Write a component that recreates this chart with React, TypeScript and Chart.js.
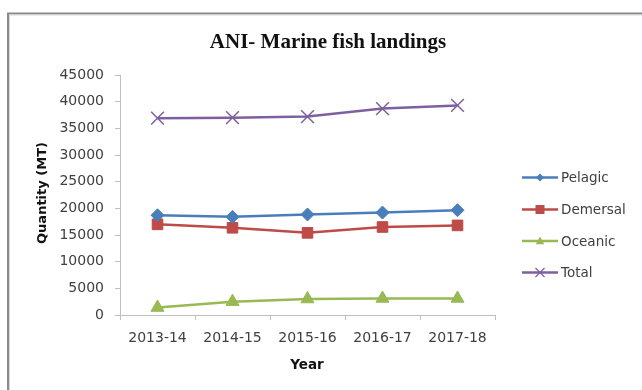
import React, { useEffect, useRef } from "react";
import { Chart, registerables } from "chart.js";

Chart.register(...registerables);

const years = ["2013-14", "2014-15", "2015-16", "2016-17", "2017-18"];
const pelagic = [18700, 18400, 18850, 19200, 19650];
const demersal = [17000, 16350, 15400, 16500, 16800];
const oceanic = [1400, 2500, 3000, 3100, 3100];
const total = [36900, 37000, 37200, 38700, 39300];
const seriesNames = ["Pelagic", "Demersal", "Oceanic", "Total"];
const seriesColors = ["#4a7ebb", "#be4b48", "#98b954", "#7d60a0"];
const seriesMarkers = ["rectRot", "rect", "triangle", "crossRot"];

const TICK_FONT = { family: "DejaVu Sans", size: 14 };

function drawMarker(ctx: CanvasRenderingContext2D, style: string, x: number, y: number, r: number, color: string) {
  ctx.save();
  ctx.fillStyle = color;
  ctx.strokeStyle = color;
  ctx.beginPath();
  if (style === "rectRot") {
    ctx.moveTo(x, y - r);
    ctx.lineTo(x + r, y);
    ctx.lineTo(x, y + r);
    ctx.lineTo(x - r, y);
    ctx.closePath();
    ctx.fill();
  } else if (style === "rect") {
    ctx.rect(x - r, y - r, 2 * r, 2 * r);
    ctx.fill();
  } else if (style === "triangle") {
    ctx.moveTo(x, y - r);
    ctx.lineTo(x + r * 0.95, y + r * 0.7);
    ctx.lineTo(x - r * 0.95, y + r * 0.7);
    ctx.closePath();
    ctx.fill();
  } else {
    ctx.lineWidth = 1.2;
    ctx.moveTo(x - r, y - r);
    ctx.lineTo(x + r, y + r);
    ctx.moveTo(x + r, y - r);
    ctx.lineTo(x - r, y + r);
    ctx.stroke();
  }
  ctx.restore();
}

const decorPlugin = {
  id: "decor",
  beforeDraw(chart: any) {
    const ctx = chart.ctx as CanvasRenderingContext2D;
    ctx.save();
    ctx.fillStyle = "#ffffff";
    ctx.fillRect(0, 0, chart.width, chart.height);
    // frame
    ctx.strokeStyle = "#8a8a8a";
    ctx.lineWidth = 2;
    ctx.beginPath();
    ctx.moveTo(8, chart.height + 5);
    ctx.lineTo(8, 13.5);
    ctx.lineTo(chart.width + 5, 13.5);
    ctx.stroke();
    ctx.strokeStyle = "#d8d8d8";
    ctx.lineWidth = 1;
    ctx.beginPath();
    ctx.moveTo(9.5, chart.height + 5);
    ctx.lineTo(9.5, 15);
    ctx.lineTo(chart.width + 5, 15);
    ctx.stroke();
    ctx.restore();
  },
  afterDraw(chart: any) {
    const ctx = chart.ctx as CanvasRenderingContext2D;
    ctx.save();
    // title
    ctx.fillStyle = "#111111";
    ctx.font = "bold 21px 'Liberation Serif'";
    ctx.textAlign = "center";
    ctx.textBaseline = "alphabetic";
    ctx.fillText("ANI- Marine fish landings", 328, 48);
    // axis titles
    ctx.font = "bold 13.5px 'DejaVu Sans'";
    ctx.textBaseline = "middle";
    ctx.fillText("Year", 307, 365);
    ctx.save();
    ctx.translate(43, 193);
    ctx.rotate(-Math.PI / 2);
    ctx.font = "bold 13px 'DejaVu Sans'";
    ctx.fillText("Quantity (MT)", 0, 0);
    ctx.restore();
    // legend
    const ys = [177.5, 209.5, 241, 272.5];
    const sizes = [4, 4.5, 4.5, 4.5];
    ctx.font = "13.5px 'DejaVu Sans'";
    ctx.textAlign = "left";
    seriesNames.forEach((name, i) => {
      const y = ys[i];
      ctx.strokeStyle = seriesColors[i];
      ctx.lineWidth = 2.5;
      ctx.beginPath();
      ctx.moveTo(522, y);
      ctx.lineTo(558, y);
      ctx.stroke();
      drawMarker(ctx, seriesMarkers[i], 540, y, sizes[i], seriesColors[i]);
      ctx.fillStyle = "#404040";
      ctx.fillText(name, 561, y + 1);
    });
    ctx.restore();
  },
};

export default function App() {
  const ref = useRef<HTMLCanvasElement>(null);
  useEffect(() => {
    document.body.style.margin = "0";
    const data = [pelagic, demersal, oceanic, total];
    const radii = [6.5, 7.5, 7.5, 9];
    const chart = new Chart(ref.current as HTMLCanvasElement, {
      type: "line",
      data: {
        labels: years,
        datasets: seriesNames.map((name, i) => ({
          label: name,
          data: data[i],
          borderColor: seriesColors[i],
          backgroundColor: seriesColors[i],
          borderWidth: 2.5,
          tension: 0,
          pointStyle: seriesMarkers[i] as any,
          pointRadius: radii[i],
          pointBorderWidth: i === 3 ? 1.5 : 1,
          pointBackgroundColor: seriesColors[i],
          pointBorderColor: seriesColors[i],
        })),
      },
      options: {
        responsive: false,
        animation: false,
        layout: { padding: { left: 0, right: 147, top: 75, bottom: 0 } },
        plugins: {
          legend: { display: false },
          title: { display: false },
          tooltip: { enabled: false },
        },
        scales: {
          x: {
            offset: true,
            grid: { offset: true, drawOnChartArea: false, drawTicks: true, tickLength: 5, color: "#bfbfbf" },
            border: { color: "#bfbfbf" },
            ticks: { font: TICK_FONT, color: "#404040", padding: 10, maxRotation: 0 },
            afterFit: (s: any) => {
              s.height = 75;
            },
          },
          y: {
            min: 0,
            max: 45000,
            ticks: {
              stepSize: 5000,
              font: TICK_FONT,
              color: "#404040",
              padding: 11,
              callback: (v: any) => String(v),
            },
            grid: { drawOnChartArea: false, drawTicks: true, tickLength: 5, color: "#bfbfbf" },
            border: { color: "#bfbfbf" },
            afterFit: (s: any) => {
              s.width = 120;
            },
          },
        },
      },
      plugins: [decorPlugin],
    });
    return () => chart.destroy();
  }, []);
  return (
    <div style={{ width: 642, height: 390 }}>
      <canvas ref={ref} width={642} height={390} style={{ display: "block" }} />
    </div>
  );
}
